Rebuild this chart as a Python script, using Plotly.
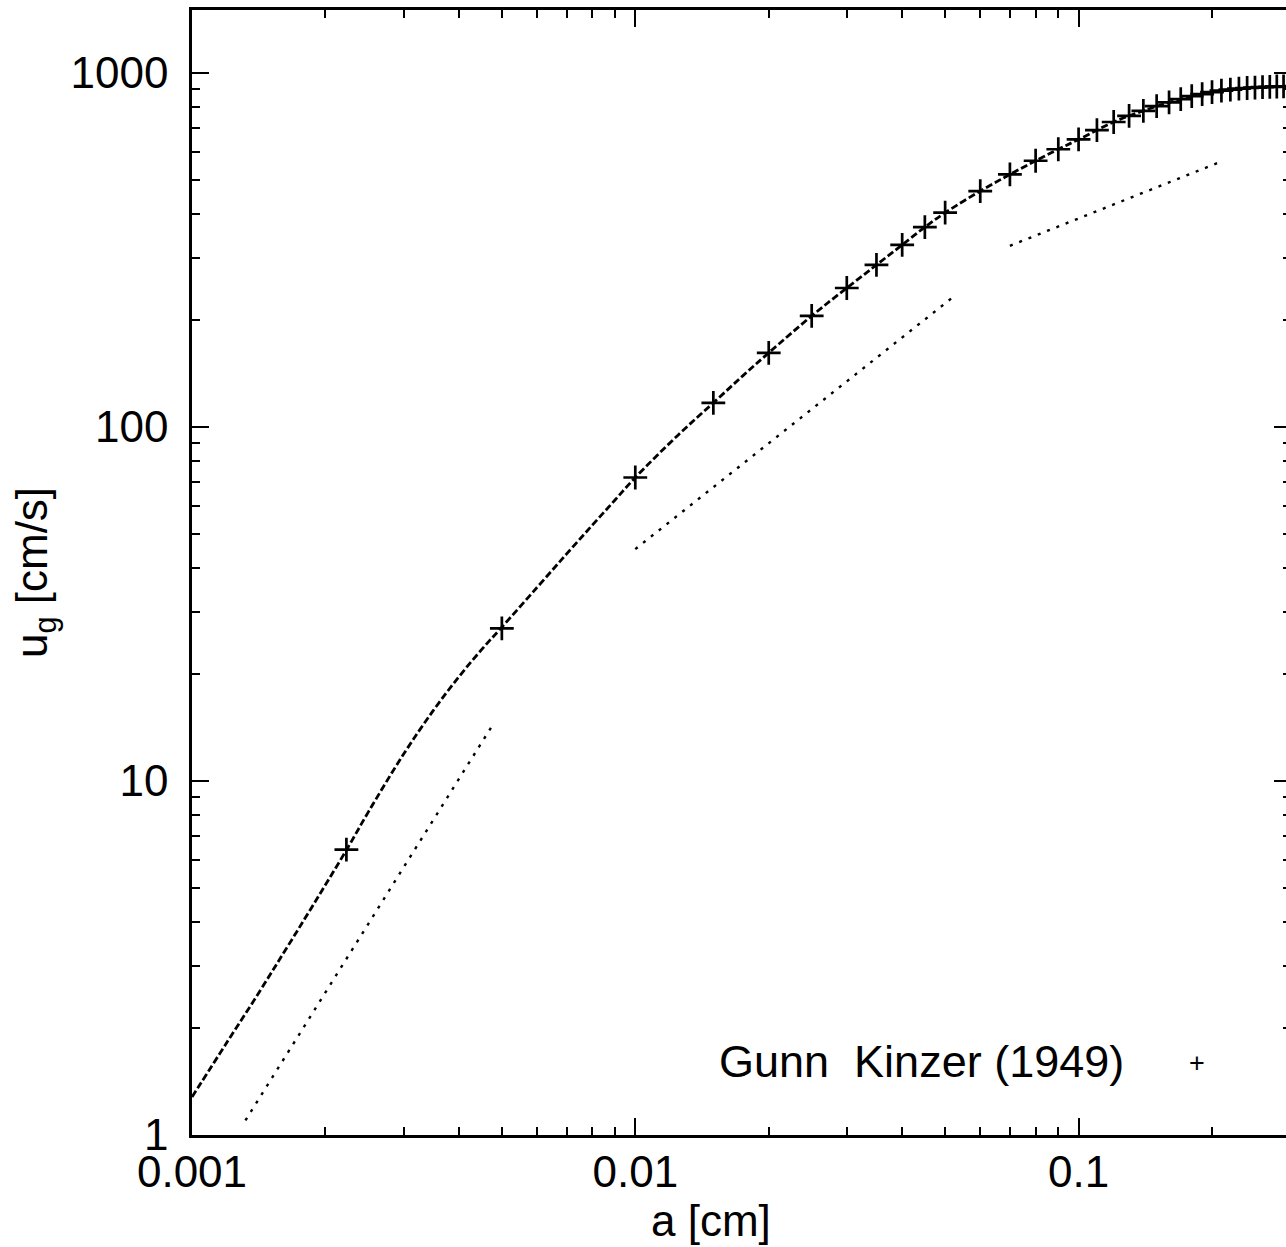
import plotly.graph_objects as go

# Gunn & Kinzer (1949) measured terminal velocities (radius a in cm, u_g in cm/s)
gk_radius = [0.00223, 0.005, 0.01, 0.015, 0.02, 0.025, 0.03, 0.035, 0.04, 0.045, 0.05,
             0.06, 0.07, 0.08, 0.09, 0.10, 0.11, 0.12, 0.13, 0.14, 0.15, 0.16, 0.17,
             0.18, 0.19, 0.20, 0.21, 0.22, 0.23, 0.24, 0.25, 0.26, 0.27, 0.28, 0.29]
gk_velocity = [6.4, 27, 72, 117, 162, 206, 247, 287, 327, 367, 403,
               464, 517, 565, 609, 649, 690, 727, 757, 782, 806, 826, 844,
               860, 872, 883, 892, 898, 903, 907, 909, 912, 914, 916, 917]

# model curve (dashed)
model_radius = [0.001, 0.0012, 0.0014, 0.0016, 0.0018, 0.002, 0.00223, 0.0025, 0.003,
                0.0035, 0.004, 0.0045, 0.005, 0.006, 0.007, 0.008, 0.009, 0.01, 0.0125,
                0.015, 0.0175, 0.02, 0.025, 0.03, 0.035, 0.04, 0.045, 0.05, 0.06, 0.07,
                0.08, 0.09, 0.10, 0.12, 0.14, 0.16, 0.18, 0.20, 0.22, 0.24, 0.26, 0.28, 0.30]
model_velocity = [1.28, 1.83, 2.47, 3.23, 4.10, 5.09, 6.38, 8.18, 11.9,
                  15.8, 19.7, 23.5, 27.2, 35.2, 43.8, 52.8, 62.2, 72, 95,
                  117, 139.7, 162, 206, 247, 287, 327, 367, 403, 464, 517,
                  565, 609, 649, 727, 782, 826, 860, 883, 898, 907, 912, 916, 918]

# asymptotic regimes (dotted)
stokes_radius = [0.00132, 0.0048]
stokes_velocity = [1.1, 14.6]
linear_radius = [0.01, 0.0526]
linear_velocity = [45.2, 235]
sqrt_radius = [0.070, 0.209]
sqrt_velocity = [325, 561]

x_tickvals = [0.001, 0.01, 0.1]
x_ticktext = ["0.001", "0.01", "0.1"]
y_tickvals = [1, 10, 100, 1000]
y_ticktext = ["1", "10", "100", "1000"]

FONT = "Liberation Sans, Arial, sans-serif"
dotted = dict(color="black", width=2.4, dash="3px,7px")

fig = go.Figure()
for xs, ys in [(stokes_radius, stokes_velocity), (linear_radius, linear_velocity),
               (sqrt_radius, sqrt_velocity)]:
    fig.add_trace(go.Scatter(x=xs, y=ys, mode="lines", line=dotted,
                             showlegend=False, hoverinfo="skip"))

fig.add_trace(go.Scatter(x=model_radius, y=model_velocity, mode="lines",
                         line=dict(color="black", width=2.8, dash="7px,3px", shape="spline"),
                         showlegend=False))
fig.add_trace(go.Scatter(x=gk_radius, y=gk_velocity, mode="markers",
                         marker=dict(symbol="cross-thin", size=17,
                                     line=dict(color="black", width=2.7)),
                         name="Gunn  Kinzer (1949)", showlegend=False))

L, R, T, B = 192, 1294, 10, 1135
PW = R - L
PH = B - T
fig.add_annotation(text="Gunn  Kinzer (1949)", xref="paper", yref="paper",
                   x=(1129 - L) / PW, y=(B - 1061) / PH,
                   xanchor="right", yanchor="middle", showarrow=False,
                   font=dict(family=FONT, size=45, color="black"))
fig.add_annotation(text="+", xref="paper", yref="paper",
                   x=(1200 - L) / PW, y=(B - 1063) / PH,
                   xanchor="center", yanchor="middle", showarrow=False,
                   font=dict(family=FONT, size=27, color="black"))

minor_style = dict(tickmode="linear", dtick="D1", ticks="inside", ticklen=8,
                   tickwidth=2.2, tickcolor="black", showgrid=False)
axis_common = dict(type="log", showgrid=False, zeroline=False,
                   showline=True, linecolor="black", linewidth=2.6, mirror="ticks",
                   ticks="inside", ticklen=17, tickwidth=2.2, tickcolor="black",
                   minor=minor_style,
                   tickfont=dict(family=FONT, size=44, color="black"))

fig.update_layout(
    width=1300, height=1247,
    margin=dict(l=L, r=1300 - R, t=T, b=1247 - B),
    paper_bgcolor="white", plot_bgcolor="white",
    font=dict(family=FONT, size=44, color="black"),
    xaxis=dict(axis_common, range=[-3, -3 + PW / 444.5], tickvals=x_tickvals,
               ticktext=x_ticktext, ticklabelstandoff=-4,
               title=dict(text="a [cm]" + "&nbsp;" * 5, standoff=0,
                          font=dict(family=FONT, size=44))),
    yaxis=dict(axis_common, range=[0, PH / 354.0], tickvals=y_tickvals,
               ticktext=y_ticktext, ticklabelstandoff=12,
               title=dict(text="u<sub>g</sub> [cm/s]", standoff=10,
                          font=dict(family=FONT, size=44))),
)

fig.write_html("out.html", config={"displayModeBar": False},
               post_script="document.body.style.margin='0';"
                           "document.body.style.overflow='hidden';"
                           "document.documentElement.style.overflow='hidden';")
